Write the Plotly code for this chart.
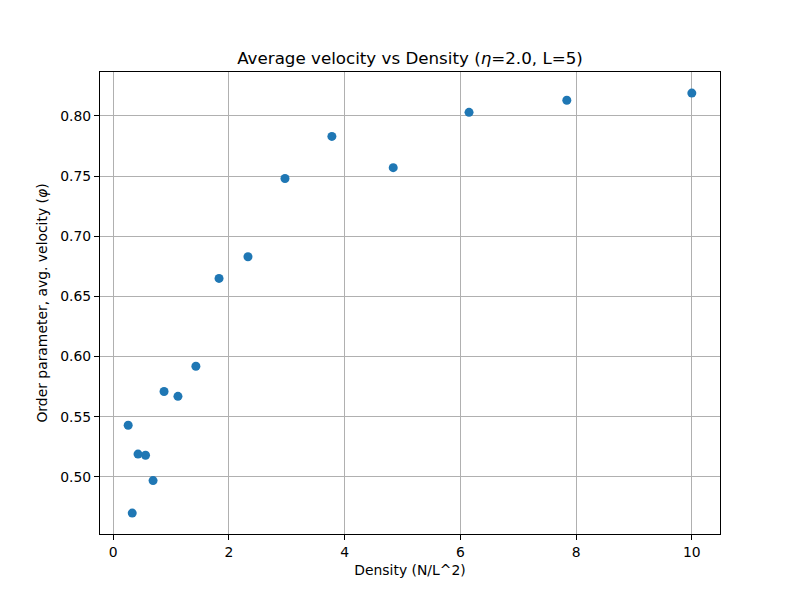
import plotly.graph_objects as go

density = [0.26, 0.33, 0.43, 0.56, 0.69, 0.88, 1.12, 1.43, 1.83, 2.33, 2.97, 3.78, 4.84, 6.15, 7.84, 10.0]
order_param = [0.543, 0.470, 0.519, 0.518, 0.497, 0.571, 0.567, 0.592, 0.665, 0.683, 0.748, 0.783, 0.757, 0.803, 0.813, 0.819]

y_ticks = [0.50, 0.55, 0.60, 0.65, 0.70, 0.75, 0.80]
x_ticks = [0, 2, 4, 6, 8, 10]

font = "DejaVu Sans"

fig = go.Figure()
fig.add_trace(go.Scatter(
    x=density, y=order_param, mode="markers",
    marker=dict(color="#1f77b4", size=9, line=dict(width=0)),
    showlegend=False,
))

axis_common = dict(
    showgrid=True, gridcolor="#b0b0b0", gridwidth=1.1,
    showline=True, linecolor="black", linewidth=1.1, mirror=True,
    ticks="outside", ticklen=5, tickwidth=1.1, tickcolor="black",
    zeroline=False,
    tickfont=dict(family=font, size=13.9, color="black"),
)

fig.update_layout(
    width=800, height=600,
    paper_bgcolor="white", plot_bgcolor="white",
    margin=dict(l=92, r=88, t=64, b=74),
    font=dict(family=font, color="black"),
    title=dict(
        text="Average velocity vs Density (<i>η</i>=2.0, L=5)",
        x=0.5025, xanchor="center", y=1 - 50/600, yanchor="middle",
        font=dict(family=font, size=16.7, color="black"),
    ),
    xaxis=dict(
        range=[-0.227, 10.487], tickvals=x_ticks, ticktext=[str(v) for v in x_ticks],
        title=dict(text="Density (N/L^2)", font=dict(family=font, size=13.9), standoff=6),
        **axis_common,
    ),
    yaxis=dict(
        range=[0.4526, 0.8365], tickvals=y_ticks, ticktext=[f"{v:.2f}" for v in y_ticks],
        title=dict(text="Order parameter, avg. velocity (<i>φ</i>)", font=dict(family=font, size=13.9), standoff=9),
        **axis_common,
    ),
)

fig.write_html("out.html")
